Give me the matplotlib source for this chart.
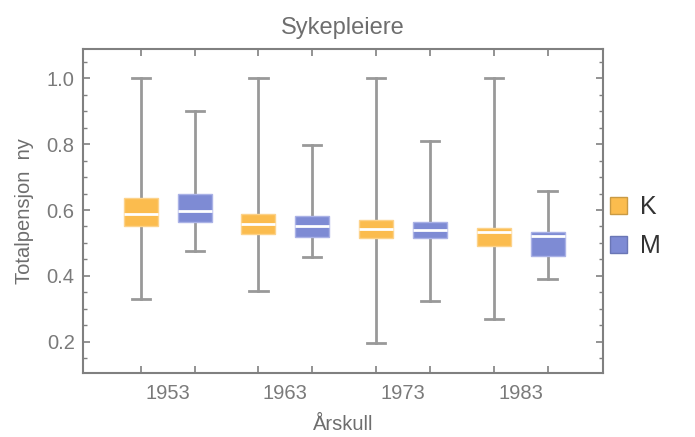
import matplotlib.pyplot as plt
import numpy as np
from matplotlib.patches import Patch
from matplotlib.ticker import MultipleLocator

plt.rcParams['font.family'] = ['Liberation Sans', 'DejaVu Sans']

years = ['1953', '1963', '1973', '1983']
groups = ['K', 'M']
# min, q1, median, q3, max
k_min = [0.330, 0.354, 0.197, 0.269]
k_q1 = [0.552, 0.528, 0.516, 0.492]
k_med = [0.588, 0.557, 0.543, 0.533]
k_q3 = [0.636, 0.589, 0.570, 0.545]
k_max = [1.0, 1.0, 1.0, 1.0]
m_min = [0.475, 0.458, 0.325, 0.391]
m_q1 = [0.565, 0.517, 0.516, 0.461]
m_med = [0.597, 0.551, 0.540, 0.521]
m_q3 = [0.649, 0.581, 0.564, 0.533]
m_max = [0.902, 0.797, 0.810, 0.658]

col_k = '#fbbc4e'
col_m = '#7e8bd4'
edge_k = '#fcd28a'
edge_m = '#aab2e6'
grey = '#808080'

fig = plt.figure(figsize=(6.95, 4.37), dpi=100)
ax = fig.add_axes([0.1194, 0.1471, 0.7482, 0.7408])

off = 0.229
x = np.arange(len(years))
for lo, q1, med, q3, hi, pos, fc, ec in [
        (k_min, k_q1, k_med, k_q3, k_max, x - off, col_k, edge_k),
        (m_min, m_q1, m_med, m_q3, m_max, x + off, col_m, edge_m)]:
    stats = [dict(whislo=a, q1=b, med=c, q3=d, whishi=e, fliers=[])
             for a, b, c, d, e in zip(lo, q1, med, q3, hi)]
    ax.bxp(stats, positions=pos, widths=0.29, patch_artist=True,
           showfliers=False, capwidths=0.155, manage_ticks=False,
           boxprops=dict(facecolor=fc, edgecolor=ec, linewidth=1.0, zorder=3),
           medianprops=dict(color='white', linewidth=2.0, zorder=4),
           whiskerprops=dict(color='#999999', linewidth=2.0, zorder=2),
           capprops=dict(color='#999999', linewidth=2.0, zorder=2))

ax.set_xlim(-0.72, 3.70)
ax.set_ylim(0.106, 1.089)
ax.yaxis.set_major_locator(MultipleLocator(0.2))
ax.yaxis.set_minor_locator(MultipleLocator(0.05))
ax.set_yticks([0.2, 0.4, 0.6, 0.8, 1.0])
ax.set_yticklabels(['0.2', '0.4', '0.6', '0.8', '1.0'])

# box-position ticks without labels, group labels at centres
ax.set_xticks(np.concatenate([x - off, x + off]))
ax.set_xticklabels([])
ax.set_xticks(x, minor=True)
ax.set_xticklabels(years, minor=True)
ax.tick_params(axis='x', which='minor', length=0, pad=8)
ax.tick_params(axis='x', which='major', direction='in', length=5, width=1.2,
               color=grey, top=True)
ax.tick_params(axis='y', which='major', direction='in', length=5, width=1.2,
               color=grey, right=True, pad=6)
ax.tick_params(axis='y', which='minor', direction='in', length=3, width=1.0,
               color=grey, right=True)
ax.tick_params(which='both', labelsize=14.5, labelcolor='#7a7a7a')
for s in ax.spines.values():
    s.set_color(grey)
    s.set_linewidth(1.5)

ax.set_title('Sykepleiere', fontsize=17, color='#6e6e6e', pad=11)
ax.set_xlabel('Årskull', fontsize=14.5, color='#6e6e6e', labelpad=9)
ax.set_ylabel('Totalpensjon  ny', fontsize=14.5, color='#6e6e6e', labelpad=9)

handles = [Patch(facecolor=col_k, edgecolor='#c99a44', label=groups[0]),
           Patch(facecolor=col_m, edgecolor='#6a76b5', label=groups[1])]
fig.legend(handles=handles, loc='center left', bbox_to_anchor=(0.846, 0.482),
           frameon=False, fontsize=18, handlelength=0.68, handleheight=0.68,
           handletextpad=0.5, labelspacing=0.6, borderpad=0.4,
           labelcolor='#333333')

fig.savefig('out.png', dpi=100)
